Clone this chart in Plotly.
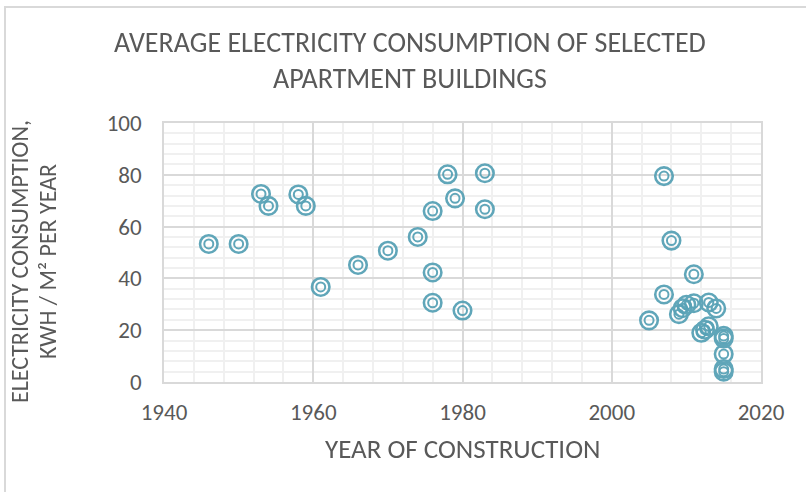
import plotly.graph_objects as go

# Year of construction and average electricity consumption (kWh/m² per year)
years = [1946, 1950, 1953, 1954, 1958, 1959, 1961, 1966, 1970, 1974,
         1976, 1976, 1976, 1978, 1979, 1980, 1983, 1983,
         2005, 2007, 2007, 2008, 2011, 2009, 2009.5, 2010, 2011, 2013, 2014,
         2012, 2012.5, 2013, 2015, 2015, 2015, 2015, 2015]
consumption = [53.3, 53.3, 72.6, 68.0, 72.4, 68.0, 36.7, 45.2, 50.7, 56.0,
               66.0, 42.3, 30.6, 80.2, 70.9, 27.6, 80.6, 66.7,
               23.8, 79.5, 33.8, 54.6, 41.6, 26.2, 28.5, 29.8, 30.4, 30.7, 28.4,
               19.0, 20.2, 21.5, 17.8, 16.8, 10.8, 5.0, 4.0]

x_ticks = [1940, 1960, 1980, 2000, 2020]
y_ticks = [0, 20, 40, 60, 80, 100]

title_text = "AVERAGE ELECTRICITY CONSUMPTION OF SELECTED<br>APARTMENT BUILDINGS"
x_title = "YEAR OF CONSTRUCTION"
y_title_lines = ["ELECTRICITY CONSUMPTION,", "KWH / M² PER YEAR"]

W, H = 806, 492
L, R, T, B = 164, 45, 123, 110
pw, ph = W - L - R, H - T - B

teal = "#58a2b6"
grey_txt = "#595959"
font_fam = "Carlito, Lato, Open Sans, sans-serif"


def px_x(p):
    return (p - L) / pw


def px_y(p):
    return (H - B - p) / ph


fig = go.Figure()
fig.add_trace(go.Scatter(
    x=years, y=consumption, mode="markers",
    marker=dict(symbol="circle-open", size=17.5, color=teal,
                line=dict(width=2.6, color=teal)),
    opacity=0.95, hoverinfo="skip", showlegend=False))
fig.add_trace(go.Scatter(
    x=years, y=consumption, mode="markers",
    marker=dict(symbol="circle-open", size=9, color=teal,
                line=dict(width=2.0, color=teal)),
    opacity=0.95, hoverinfo="skip", showlegend=False))

annotations = [dict(text=title_text, xref="paper", yref="paper",
                    x=px_x(410), y=px_y(60), xanchor="center", yanchor="middle",
                    showarrow=False,
                    font=dict(size=28, color=grey_txt, family=font_fam))]
for txt, pxx in zip(y_title_lines, [19, 47]):
    annotations.append(dict(text=txt, textangle=-90, xref="paper", yref="paper",
                            x=px_x(pxx), y=px_y(262), xanchor="center", yanchor="middle",
                            showarrow=False,
                            font=dict(size=24, color=grey_txt, family=font_fam)))
annotations.append(dict(text=x_title, xref="paper", yref="paper",
                        x=px_x(462), y=px_y(448), xanchor="center", yanchor="middle",
                        showarrow=False,
                        font=dict(size=27, color=grey_txt, family=font_fam)))

fig.update_layout(
    width=W, height=H,
    margin=dict(l=L, r=R, t=T, b=B),
    paper_bgcolor="white", plot_bgcolor="white",
    font=dict(family=font_fam, color=grey_txt),
    xaxis=dict(range=[1940, 2020], tickvals=x_ticks, ticks="", automargin=False,
               showline=True, linecolor="#d9d9d9", linewidth=1.5, mirror=True,
               showgrid=True, gridcolor="#d9d9d9", gridwidth=1.5,
               zeroline=False,
               minor=dict(dtick=4, tick0=1940, showgrid=True,
                          gridcolor="#f0f0f0", gridwidth=1.5),
               tickfont=dict(size=23, color=grey_txt), ticklabelstandoff=9),
    yaxis=dict(range=[0, 100], tickvals=y_ticks, ticks="", automargin=False,
               showline=True, linecolor="#d9d9d9", linewidth=1.5, mirror=True,
               showgrid=True, gridcolor="#d9d9d9", gridwidth=1.5,
               zeroline=False,
               minor=dict(dtick=4, tick0=0, showgrid=True,
                          gridcolor="#f0f0f0", gridwidth=1.5),
               tickfont=dict(size=23, color=grey_txt), ticklabelstandoff=16),
    annotations=annotations,
    shapes=[dict(type="rect", xref="paper", yref="paper",
                 x0=px_x(5), x1=px_x(830), y0=px_y(520), y1=px_y(7),
                 line=dict(color="#d9d9d9", width=2), layer="below")],
)

fig.write_html("out.html", config={"displayModeBar": False},
               post_script="document.body.style.margin='0';document.body.style.overflow='hidden';")
